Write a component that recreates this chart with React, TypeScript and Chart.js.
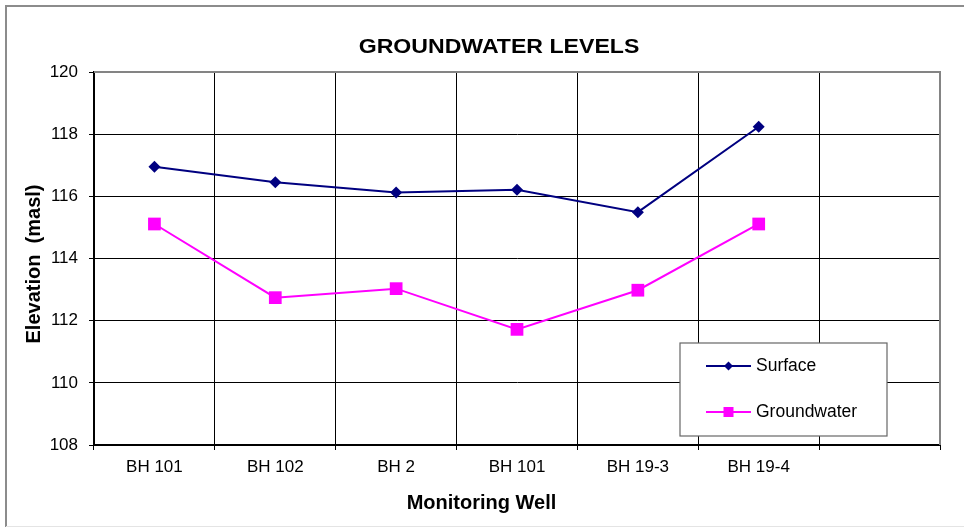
import React, { useEffect, useRef } from 'react';
import { Chart, registerables } from 'chart.js';

Chart.register(...registerables);

const categories = ['BH 101', 'BH 102', 'BH 2', 'BH 101', 'BH 19-3', 'BH 19-4', ''];
const surface = [116.95, 116.45, 116.12, 116.21, 115.49, 118.24];
const groundwater = [115.11, 112.74, 113.03, 111.72, 112.98, 115.11];
const yMin = 108;
const yMax = 120;
const yStep = 2;

const chartTitle = 'GROUNDWATER LEVELS';
const xTitle = 'Monitoring Well';
const yTitle = 'Elevation  (masl)';

const FONT = '"Liberation Sans", Arial, Helvetica, sans-serif';
const NAVY = '#000080';
const MAGENTA = '#FF00FF';

const decorPlugin = {
  id: 'decor',
  beforeDraw(chart: any) {
    const ctx = chart.ctx;
    ctx.save();
    ctx.fillStyle = '#ffffff';
    ctx.fillRect(0, 0, chart.width, chart.height);
    // outer frame
    ctx.strokeStyle = '#8c8c8c';
    ctx.lineWidth = 2;
    ctx.beginPath();
    ctx.moveTo(6, chart.height);
    ctx.lineTo(6, 6);
    ctx.lineTo(chart.width, 6);
    ctx.stroke();
    ctx.strokeStyle = '#e4e4e4';
    ctx.lineWidth = 1;
    ctx.beginPath();
    ctx.moveTo(6, 526.5);
    ctx.lineTo(chart.width, 526.5);
    ctx.stroke();
    ctx.restore();
  },
  afterDraw(chart: any) {
    const ctx = chart.ctx;
    const area = chart.chartArea;
    ctx.save();
    // plot top/right border (gray)
    ctx.strokeStyle = '#848484';
    ctx.lineWidth = 2;
    ctx.beginPath();
    ctx.moveTo(area.left, area.top);
    ctx.lineTo(area.right, area.top);
    ctx.lineTo(area.right, area.bottom);
    ctx.stroke();

    // titles
    ctx.fillStyle = '#000';
    ctx.textAlign = 'center';
    ctx.textBaseline = 'middle';
    ctx.save();
    ctx.translate(499, 47);
    ctx.scale(1.1, 1);
    ctx.font = `bold 21px ${FONT}`;
    ctx.fillText(chartTitle, 0, 0);
    ctx.restore();
    ctx.font = `bold 20px ${FONT}`;
    ctx.fillText(xTitle, 481.5, 503);
    ctx.save();
    ctx.translate(34, 264);
    ctx.rotate(-Math.PI / 2);
    ctx.fillText(yTitle, 0, 0);
    ctx.restore();

    // legend
    const bx = 680, by = 343, bw = 207, bh = 93;
    ctx.fillStyle = '#fff';
    ctx.fillRect(bx, by, bw, bh);
    ctx.strokeStyle = '#666666';
    ctx.lineWidth = 1.2;
    ctx.strokeRect(bx, by, bw, bh);
    const rows = [366, 412];
    chart.data.datasets.forEach((ds: any, i: number) => {
      const y = rows[i];
      ctx.strokeStyle = ds.borderColor;
      ctx.lineWidth = 2;
      ctx.beginPath();
      ctx.moveTo(706, y);
      ctx.lineTo(751, y);
      ctx.stroke();
      ctx.fillStyle = ds.backgroundColor;
      if (ds.pointStyle === 'rectRot') {
        const r = 4.5;
        ctx.beginPath();
        ctx.moveTo(728.5, y - r);
        ctx.lineTo(728.5 + r, y);
        ctx.lineTo(728.5, y + r);
        ctx.lineTo(728.5 - r, y);
        ctx.closePath();
        ctx.fill();
      } else {
        ctx.fillRect(728.5 - 5, y - 5, 10, 10);
      }
      ctx.fillStyle = '#000';
      ctx.textAlign = 'left';
      ctx.textBaseline = 'middle';
      ctx.font = `17.5px ${FONT}`;
      ctx.fillText(ds.label, 756, y);
    });
    ctx.restore();
  },
};

export default function App() {
  const ref = useRef<HTMLCanvasElement | null>(null);

  useEffect(() => {
    document.body.style.margin = '0';
    const canvas = ref.current;
    if (!canvas) return;
    const chart = new Chart(canvas, {
      type: 'line',
      data: {
        labels: categories,
        datasets: [
          {
            label: 'Surface',
            data: surface,
            borderColor: NAVY,
            backgroundColor: NAVY,
            borderWidth: 2,
            pointStyle: 'rectRot',
            pointRadius: 6,
            pointBorderWidth: 0,
            tension: 0,
          },
          {
            label: 'Groundwater',
            data: groundwater,
            borderColor: MAGENTA,
            backgroundColor: MAGENTA,
            borderWidth: 2,
            pointStyle: 'rect',
            pointRadius: 9,
            pointBorderWidth: 0,
            tension: 0,
          },
        ],
      },
      options: {
        responsive: false,
        animation: false,
        devicePixelRatio: 1,
        layout: { padding: { top: 72, right: 24, left: 0, bottom: 0 } },
        plugins: {
          legend: { display: false },
          title: { display: false },
          tooltip: { enabled: false },
        },
        scales: {
          x: {
            type: 'category',
            offset: true,
            grid: {
              offset: true,
              color: '#000',
              lineWidth: 1,
              tickLength: 5,
              tickColor: '#000',
            },
            border: { color: '#000', width: 2 },
            ticks: {
              color: '#000',
              font: { family: FONT, size: 17 },
              padding: 7,
              maxRotation: 0,
              autoSkip: false,
            },
            afterFit(scale: any) {
              scale.height = 82;
            },
          },
          y: {
            min: yMin,
            max: yMax,
            ticks: {
              stepSize: yStep,
              color: '#000',
              font: { family: FONT, size: 17 },
              padding: 11,
            },
            grid: { color: '#000', lineWidth: 1, tickLength: 5, tickColor: '#000' },
            border: { color: '#000', width: 2 },
            afterFit(scale: any) {
              scale.width = 94;
            },
          },
        },
      },
      plugins: [decorPlugin],
    } as any);
    return () => chart.destroy();
  }, []);

  return (
    <div style={{ width: 964, height: 527 }}>
      <canvas ref={ref} width={964} height={527} style={{ display: 'block' }} />
    </div>
  );
}
